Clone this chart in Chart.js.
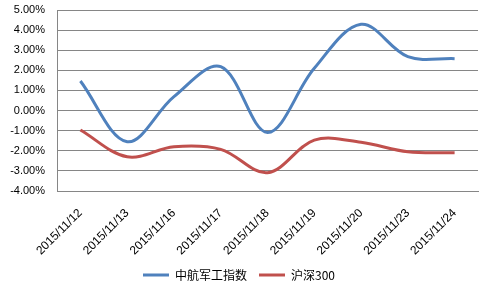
<!DOCTYPE html>
<html>
<head>
<meta charset="utf-8">
<script src="https://cdn.jsdelivr.net/npm/chart.js@4/dist/chart.umd.min.js"></script>
<style>
  html, body { margin: 0; padding: 0; background: #fff; }
  #wrap { width: 484px; height: 287px; position: relative; }
</style>
</head>
<body>
<div id="wrap"><canvas id="chart"></canvas></div>
<script>
// dates on the x axis
const dates = ["2015/11/12", "2015/11/13", "2015/11/16", "2015/11/17", "2015/11/18",
  "2015/11/19", "2015/11/20", "2015/11/23", "2015/11/24"];
// daily change, percent
const avicMilitary = [1.47, -1.55, 0.69, 2.18, -1.09, 2.1, 4.29, 2.68, 2.58];
const hs300 = [-0.97, -2.3, -1.8, -1.93, -3.09, -1.47, -1.58, -2.05, -2.1];
const seriesNames = ["中航军工指数", "沪深300"];

const ctx = document.getElementById("chart").getContext("2d");
new Chart(ctx, {
  type: "line",
  data: {
    labels: dates,
    datasets: [
      {
        label: seriesNames[0],
        data: avicMilitary,
        borderColor: "#4F81BD",
        backgroundColor: "#4F81BD",
        borderWidth: 3,
        pointRadius: 0,
        tension: 0.35,
        fill: false,
      },
      {
        label: seriesNames[1],
        data: hs300,
        borderColor: "#C0504D",
        backgroundColor: "#C0504D",
        borderWidth: 3,
        pointRadius: 0,
        tension: 0.35,
        fill: false,
      },
    ],
  },
  options: {
    responsive: true,
    maintainAspectRatio: false,
    animation: false,
    layout: { padding: { left: 0, right: 6, top: 10, bottom: -4 } },
    plugins: {
      tooltip: { enabled: false },
      legend: {
        position: "bottom",
        labels: {
          usePointStyle: true,
          pointStyle: "line",
          pointStyleWidth: 26,
          color: "#000",
          padding: 12,
          font: { family: "'Noto Sans CJK SC', 'Liberation Sans'", size: 12 },
        },
      },
    },
    scales: {
      x: {
        offset: true,
        grid: { display: false },
        border: { display: true, color: "#868686", width: 1 },
        ticks: {
          minRotation: 45,
          maxRotation: 45,
          color: "#000",
          padding: 7,
          font: { family: "'Liberation Sans', Arial", size: 12 },
        },
        // fixed height so the plot ends where the reference does
        afterFit: (scale) => { scale.height = 66; },
      },
      y: {
        min: -4,
        max: 5,
        grid: { color: "#868686", drawTicks: false },
        border: { display: true, color: "#868686", width: 1 },
        ticks: {
          stepSize: 1,
          color: "#000",
          padding: 12,
          font: { family: "'Liberation Sans', Arial", size: 11 },
          callback: (val) => val.toFixed(2) + "%",
        },
        afterFit: (scale) => {
          scale.width = 57;
          scale.paddingTop = 0;
          scale.paddingBottom = 0;
        },
      },
    },
  },
});
</script>
</body>
</html>
